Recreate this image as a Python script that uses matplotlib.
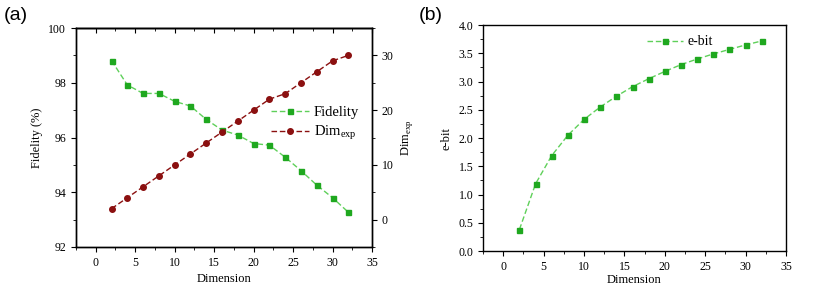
import matplotlib
matplotlib.use("Agg")
import matplotlib.pyplot as plt
from matplotlib.ticker import MultipleLocator

# data
dimension = [2, 4, 6, 8, 10, 12, 14, 16, 18, 20, 22, 24, 26, 28, 30, 32]
fidelity = [98.81, 97.92, 97.61, 97.61, 97.32, 97.15, 96.66, 96.27,
            96.09, 95.78, 95.72, 95.28, 94.79, 94.26, 93.80, 93.27]
dim_exp = [2, 4, 6, 8, 10, 12, 14, 16, 18, 20, 22, 23, 25, 27, 29, 30]
ebit = [0.38, 1.19, 1.69, 2.05, 2.33, 2.55, 2.74, 2.91,
        3.05, 3.18, 3.30, 3.40, 3.49, 3.57, 3.65, 3.72]

plt.rcParams['font.family'] = ['Liberation Serif', 'DejaVu Serif']
plt.rcParams['mathtext.fontset'] = 'custom'
plt.rcParams['mathtext.rm'] = 'Liberation Serif'
plt.rcParams['axes.linewidth'] = 1.0

GREEN_LINE = '#5fd05a'
GREEN_MARK = '#1fa81f'
RED = '#8b1010'
TICKSIZE = 8.5

fig = plt.figure(figsize=(8.3, 2.87), dpi=100)

def style_ticks(ax):
    ax.tick_params(which='both', direction='out', labelsize=TICKSIZE)
    ax.tick_params(which='major', length=3.5)
    ax.tick_params(which='minor', length=2)

# ---- (a) ----
ax1 = fig.add_axes([0.0916, 0.1394, 0.3566, 0.763])
l1, = ax1.plot(dimension, fidelity, linestyle='--', dashes=(4, 2), color=GREEN_LINE, lw=1.0,
               marker='s', markersize=3.6, markerfacecolor=GREEN_MARK,
               markeredgecolor=GREEN_MARK, label='Fidelity')
ax1.set_xlim(-2.5, 35)
ax1.set_ylim(92, 100)
ax1.xaxis.set_major_locator(MultipleLocator(5))
ax1.xaxis.set_minor_locator(MultipleLocator(2.5))
ax1.yaxis.set_major_locator(MultipleLocator(2))
ax1.yaxis.set_minor_locator(MultipleLocator(1))
style_ticks(ax1)
ax1.set_xlabel('Dimension', fontsize=9, labelpad=3)
ax1.set_ylabel('Fidelity (%)', fontsize=9)

top = ax1.secondary_xaxis('top')
top.xaxis.set_major_locator(MultipleLocator(5))
top.xaxis.set_minor_locator(MultipleLocator(2.5))
top.tick_params(which='both', direction='in', labeltop=False)
top.tick_params(which='major', length=3.5)
top.tick_params(which='minor', length=2)

ax2 = ax1.twinx()
l2, = ax2.plot(dimension, dim_exp, linestyle='--', dashes=(4, 2), color=RED, lw=1.0,
               marker='o', markersize=4.0, markerfacecolor=RED,
               markeredgecolor=RED, label='Dim$_{\\mathrm{exp}}$')
ax2.set_ylim(-5, 35)
ax2.yaxis.set_major_locator(MultipleLocator(10))
ax2.yaxis.set_minor_locator(MultipleLocator(5))
style_ticks(ax2)
ax2.set_ylabel('Dim$_{\\mathrm{exp}}$', fontsize=9)

ax1.legend(handles=[l1, l2], loc='center right', bbox_to_anchor=(1.0, 0.56),
           frameon=False, fontsize=10.5, handlelength=2.6, handletextpad=0.3,
           labelspacing=0.3)

fig.text(0.004, 0.93, '(a)', fontsize=14, family='Liberation Sans')

# ---- (b) ----
ax3 = fig.add_axes([0.582, 0.1254, 0.365, 0.787])
ax3.plot(dimension, ebit, linestyle='--', dashes=(4, 2), color=GREEN_LINE, lw=1.0,
         marker='s', markersize=3.6, markerfacecolor=GREEN_MARK,
         markeredgecolor=GREEN_MARK, label='e-bit')
ax3.set_xlim(-2.5, 35)
ax3.set_ylim(0, 4)
ax3.xaxis.set_major_locator(MultipleLocator(5))
ax3.xaxis.set_minor_locator(MultipleLocator(2.5))
ax3.yaxis.set_major_locator(MultipleLocator(0.5))
ax3.yaxis.set_minor_locator(MultipleLocator(0.25))
ax3.yaxis.set_major_formatter(plt.FormatStrFormatter('%.1f'))
style_ticks(ax3)
ax3.set_xlabel('Dimension', fontsize=9, labelpad=1)
ax3.set_ylabel('e-bit', fontsize=9)
ax3.legend(loc='upper center', bbox_to_anchor=(0.65, 1.01), frameon=False,
           fontsize=10, handlelength=2.6, handletextpad=0.3)

fig.text(0.504, 0.93, '(b)', fontsize=14, family='Liberation Sans')

fig.savefig('out.png', dpi=100)
